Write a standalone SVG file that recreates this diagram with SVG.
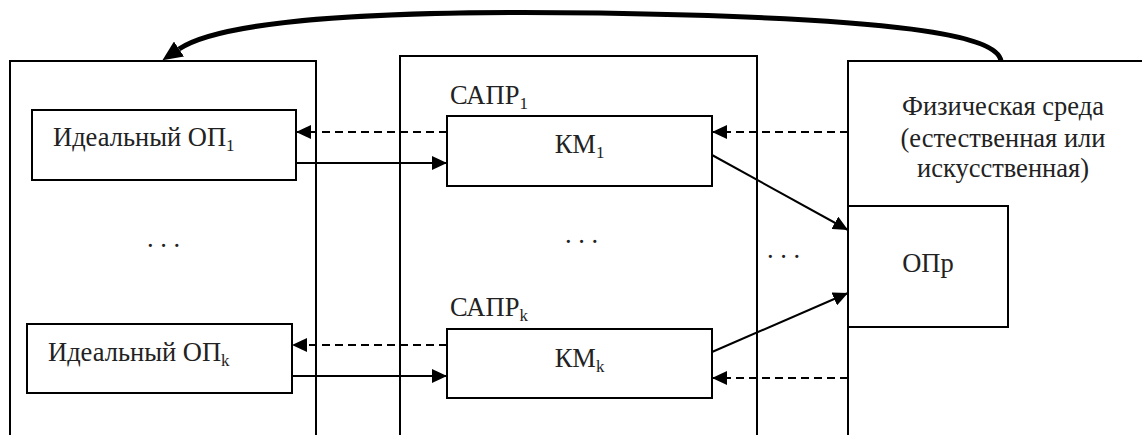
<svg xmlns="http://www.w3.org/2000/svg" width="1142" height="435" viewBox="0 0 1142 435">
<style>
.box{fill:none;stroke:#000;stroke-width:2}
.inner{fill:#fff;stroke:#000;stroke-width:2}
.t{font-family:'Liberation Serif','Times New Roman','DejaVu Serif',serif;font-size:26.5px;fill:#222}
.sub{font-size:17px}
.c{fill:none;stroke:#000;stroke-width:2}
.d{stroke-dasharray:8 5}
</style>
<defs>
<marker id="ah" viewBox="0 0 15 14" markerWidth="15" markerHeight="14" refX="15" refY="7" orient="auto" markerUnits="userSpaceOnUse">
<path d="M0,0 L15,7 L0,14 z" fill="#000"/>
</marker>
<marker id="big" viewBox="0 0 20 18" markerWidth="20" markerHeight="18" refX="0" refY="9" orient="auto" markerUnits="userSpaceOnUse">
<path d="M0,0 L20,9 L0,18 z" fill="#000"/>
</marker>
</defs>
<rect width="1142" height="435" fill="#fff"/>

<g id="ideal-space">
<rect class="box" x="10" y="61" width="306" height="420"/>
<text class="t" x="147" y="247">. . .</text>
</g>
<g id="ideal-op1">
<rect class="inner" x="32" y="110" width="264" height="70"/>
<text class="t" x="53" y="146">Идеальный ОП<tspan class="sub" dy="5">1</tspan></text>
</g>
<g id="ideal-opk">
<rect class="inner" x="27" y="324" width="265" height="69"/>
<text class="t" x="48" y="361">Идеальный ОП<tspan class="sub" dy="5">k</tspan></text>
</g>

<g id="sapr-space">
<rect class="box" x="400" y="56" width="357" height="420"/>
<text class="t" x="565" y="243">. . .</text>
<text class="t" x="450" y="104">САПР<tspan class="sub" dy="5">1</tspan></text>
<text class="t" x="450" y="316">САПР<tspan class="sub" dy="5">k</tspan></text>
</g>
<g id="km1">
<rect class="inner" x="447" y="116" width="265" height="70"/>
<text class="t" x="579.5" y="153" text-anchor="middle">КМ<tspan class="sub" dy="5">1</tspan></text>
</g>
<g id="kmk">
<rect class="inner" x="447" y="329" width="265" height="69"/>
<text class="t" x="579.5" y="367" text-anchor="middle">КМ<tspan class="sub" dy="5">k</tspan></text>
</g>

<g id="dots-right">
<text class="t" x="767" y="258">. . .</text>
</g>

<g id="physical-env">
<rect class="box" x="848" y="61" width="400" height="420"/>
<text class="t" x="1003" y="115" text-anchor="middle">Физическая среда</text>
<text class="t" x="1003" y="147" text-anchor="middle">(естественная или</text>
<text class="t" x="1003" y="177" text-anchor="middle">искусственная)</text>
</g>
<g id="opr">
<rect class="inner" x="848" y="206" width="160" height="121"/>
<text class="t" x="928" y="272" text-anchor="middle">ОПр</text>
</g>

<g id="connectors">
<path class="c d" d="M848,132 L712,132" marker-end="url(#ah)"/>
<path class="c d" d="M447,132 L296,132" marker-end="url(#ah)"/>
<path class="c" d="M296,163 L447,163" marker-end="url(#ah)"/>
<path class="c" d="M712,155 L848,230" marker-end="url(#ah)"/>
<path class="c" d="M712,352 L848,293" marker-end="url(#ah)"/>
<path class="c d" d="M848,378 L712,378" marker-end="url(#ah)"/>
<path class="c d" d="M447,345 L292,345" marker-end="url(#ah)"/>
<path class="c" d="M292,376 L447,376" marker-end="url(#ah)"/>
<path fill="none" stroke="#000" stroke-width="5" d="M1001,61 C997,35 900,18 600,13 C400,10 225,18 179,49" marker-end="url(#big)"/>
</g>
</svg>
